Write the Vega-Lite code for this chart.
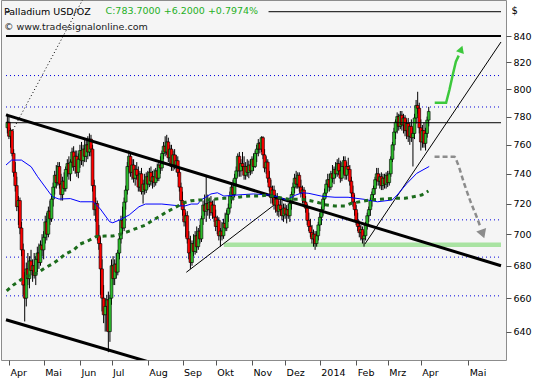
{
  "$schema": "https://vega.github.io/schema/vega-lite/v6.json",
  "width": 505,
  "height": 360,
  "autosize": "none",
  "padding": {"left": 1, "top": 0, "right": 27, "bottom": 20},
  "background": "#ffffff",
  "config": {
    "font": "DejaVu Sans",
    "view": {"fill": "#f5f5f5", "stroke": "#8c8c8c", "strokeWidth": 1},
    "axis": {"grid": false, "domain": false, "labelFont": "DejaVu Sans", "labelFontSize": 9.5, "labelColor": "#000000", "tickColor": "#555555", "tickSize": 5, "titleFont": "DejaVu Sans", "titleFontWeight": "normal"}
  },
  "title": {
    "text": "\u00a0\u00a0\u00a0\u00a0\u00a0Palladium USD/OZ",
    "subtitle": "© www.tradesignalonline.com",
    "anchor": "start", "frame": "group", "orient": "top", "offset": -31, "dx": 3,
    "font": "DejaVu Sans", "fontSize": 9.5, "fontWeight": "normal", "color": "#000000",
    "subtitleFont": "DejaVu Sans", "subtitleFontSize": 9.5, "subtitleColor": "#1a1a1a", "subtitlePadding": 5
  },
  "encoding": {
    "x": {"field": "i", "type": "quantitative", "scale": {"domain": [-1.86, 311.8], "nice": false, "zero": false},
      "axis": {"orient": "bottom", "values": [0, 22, 45, 65, 88, 110, 131, 154, 175, 197, 220, 240, 261, 291],
        "labelExpr": "['Apr','Mai','Jun','Jul','Aug','Sep','Okt','Nov','Dez','2014','Feb','Mrz','Apr','Mai'][indexof([0,22,45,65,88,110,131,154,175,197,220,240,261,291], datum.value)]",
        "labelAlign": "left", "labelOffset": 1, "labelPadding": 2, "labelFlush": false, "labelOverlap": false,
        "title": "C:783.7000 +6.2000 +0.7974%", "titleColor": "#1fb01f", "titleFontSize": 9.5,
        "titleX": 104, "titleY": -350, "titleAlign": "left", "titleBaseline": "middle", "titleAngle": 0}},
    "y": {"field": "v", "type": "quantitative", "scale": {"type": "log", "domain": [623.5, 868.3], "nice": false, "zero": false},
      "axis": {"orient": "right", "values": [640, 660, 680, 700, 720, 740, 760, 780, 800, 820, 840], "format": "d", "labelPadding": 2, "labelOverlap": false,
        "title": "$", "titleAngle": 0, "titleX": 5, "titleY": 10, "titleAlign": "left", "titleBaseline": "middle", "titleFontSize": 10, "titleColor": "#000000"}}
  },
  "layer": [
    {
      "data": {"values": [
        {"i": -1.86, "i2": 311.8, "v": 810.0}, {"i": -1.86, "i2": 311.8, "v": 786.9}, {"i": -1.86, "i2": 311.8, "v": 709.3},
        {"i": -1.86, "i2": 311.8, "v": 685.4}, {"i": -1.86, "i2": 311.8, "v": 661.4}
      ]},
      "mark": {"type": "rule", "color": "#0000dd", "strokeWidth": 1, "strokeDash": [1, 3]},
      "encoding": {"x2": {"field": "i2"}}
    },
    {
      "data": {"values": [{"i": 136.2, "i2": 311.8, "v": 693.2}]},
      "mark": {"type": "rule", "color": "#a9e3a2", "strokeWidth": 4.5, "strokeCap": "butt", "clip": true},
      "encoding": {"x2": {"field": "i2"}}
    },
    {
      "data": {"name": "candles"},
      "mark": {"type": "rule", "color": "#000000", "strokeWidth": 1},
      "encoding": {
        "y": {"field": "l", "type": "quantitative", "scale": {"type": "log", "domain": [623.5, 868.3], "nice": false, "zero": false},
          "axis": {"orient": "right", "values": [640, 660, 680, 700, 720, 740, 760, 780, 800, 820, 840], "format": "d", "labelPadding": 2, "labelOverlap": false,
            "title": "$", "titleAngle": 0, "titleX": 5, "titleY": 10, "titleAlign": "left", "titleBaseline": "middle", "titleFontSize": 10, "titleColor": "#000000"}},
        "y2": {"field": "h"}
      }
    },
    {
      "data": {"name": "candles"},
      "mark": {"type": "bar", "size": 2.8, "stroke": "#000000", "strokeWidth": 0.6},
      "encoding": {
        "y": {"field": "o", "type": "quantitative", "scale": {"type": "log", "domain": [623.5, 868.3], "nice": false, "zero": false},
          "axis": {"orient": "right", "values": [640, 660, 680, 700, 720, 740, 760, 780, 800, 820, 840], "format": "d", "labelPadding": 2, "labelOverlap": false,
            "title": "$", "titleAngle": 0, "titleX": 5, "titleY": 10, "titleAlign": "left", "titleBaseline": "middle", "titleFontSize": 10, "titleColor": "#000000"}},
        "y2": {"field": "c"},
        "fill": {"condition": {"test": "datum.c >= datum.o", "value": "#2dbd2d"}, "value": "#ff0000"}
      }
    },
    {
      "data": {"values": [{"i": -1.86, "i2": 0.6, "v": 859.0}, {"i": 164.5, "i2": 311.8, "v": 859.0}, {"i": -1.86, "i2": 311.8, "v": 775.6}]},
      "mark": {"type": "rule", "color": "#000000", "strokeWidth": 1},
      "encoding": {"x2": {"field": "i2"}}
    },
    {
      "data": {"values": [{"i": -1.86, "i2": 311.8, "v": 840}]},
      "mark": {"type": "rule", "color": "#000000", "strokeWidth": 2},
      "encoding": {"x2": {"field": "i2"}}
    },
    {
      "data": {"values": [
        {"id": "upper", "i": -1.86, "v": 781.2}, {"id": "upper", "i": 311.8, "v": 680.0},
        {"id": "lower", "i": -1.86, "v": 647.0}, {"id": "lower", "i": 183.9, "v": 597.5}
      ]},
      "mark": {"type": "line", "color": "#000000", "strokeWidth": 3, "clip": true},
      "encoding": {"detail": {"field": "id"}}
    },
    {
      "data": {"values": [
        {"id": "sep", "i": 112.4, "v": 675.9}, {"id": "sep", "i": 167.7, "v": 718.8},
        {"id": "feb", "i": 225.5, "v": 693.6}, {"id": "feb", "i": 311.8, "v": 835.4}
      ]},
      "mark": {"type": "line", "color": "#000000", "strokeWidth": 1, "clip": true},
      "encoding": {"detail": {"field": "id"}}
    },
    {
      "data": {"values": [{"i": 2.5, "v": 770.4}, {"i": 60, "v": 900.4}]},
      "mark": {"type": "line", "color": "#000000", "strokeWidth": 1, "strokeDash": [1, 2.5], "clip": true}
    },
    {
      "data": {"values": [
        {"i": -1.86, "v": 746.0}, {"i": 1.7, "v": 749.4}, {"i": 7.9, "v": 749.4}, {"i": 14.1, "v": 744.8}, {"i": 18.2, "v": 738.0},
        {"i": 24.4, "v": 729.0}, {"i": 27.5, "v": 724.6}, {"i": 31.7, "v": 723.0}, {"i": 38.9, "v": 723.3}, {"i": 45.2, "v": 721.2},
        {"i": 53.4, "v": 721.2}, {"i": 57.6, "v": 716.9}, {"i": 63.8, "v": 708.1}, {"i": 65.8, "v": 707.4}, {"i": 70.0, "v": 709.2},
        {"i": 76.2, "v": 712.5}, {"i": 82.4, "v": 717.9}, {"i": 86.5, "v": 719.7}, {"i": 96.9, "v": 719.7}, {"i": 105.2, "v": 718.8},
        {"i": 111.4, "v": 718.4}, {"i": 115.5, "v": 719.7}, {"i": 119.7, "v": 719.7}, {"i": 121.7, "v": 722.4}, {"i": 128.0, "v": 726.4},
        {"i": 132.1, "v": 727.2}, {"i": 136.2, "v": 725.0}, {"i": 144.5, "v": 725.7}, {"i": 154.8, "v": 726.4}, {"i": 165.2, "v": 725.7},
        {"i": 171.4, "v": 724.2}, {"i": 175.6, "v": 722.4}, {"i": 181.8, "v": 725.7}, {"i": 185.9, "v": 727.2}, {"i": 190.1, "v": 726.8},
        {"i": 198.3, "v": 724.9}, {"i": 206.6, "v": 724.2}, {"i": 214.9, "v": 724.2}, {"i": 225.3, "v": 722.8}, {"i": 233.5, "v": 721.2},
        {"i": 242.9, "v": 722.4}, {"i": 246.0, "v": 725.7}, {"i": 252.2, "v": 733.5}, {"i": 258.4, "v": 740.3}, {"i": 266.3, "v": 745.0}
      ]},
      "mark": {"type": "line", "color": "#0000ff", "strokeWidth": 1, "clip": true}
    },
    {
      "data": {"values": [
        {"i": -1.4, "v": 664.5}, {"i": 2.7, "v": 668.0}, {"i": 7.9, "v": 671.5}, {"i": 13.0, "v": 674.2}, {"i": 18.2, "v": 675.6},
        {"i": 22.4, "v": 678.4}, {"i": 27.5, "v": 681.1}, {"i": 31.7, "v": 684.0}, {"i": 35.8, "v": 687.4}, {"i": 41.0, "v": 689.9},
        {"i": 45.2, "v": 693.7}, {"i": 50.3, "v": 695.8}, {"i": 55.5, "v": 698.6}, {"i": 60.7, "v": 698.8}, {"i": 65.8, "v": 698.8},
        {"i": 71.0, "v": 700.1}, {"i": 76.2, "v": 702.0}, {"i": 81.4, "v": 704.0}, {"i": 86.5, "v": 705.9}, {"i": 90.7, "v": 708.7},
        {"i": 95.8, "v": 711.8}, {"i": 100.0, "v": 714.6}, {"i": 105.2, "v": 717.3}, {"i": 110.4, "v": 720.4}, {"i": 115.5, "v": 721.9},
        {"i": 120.7, "v": 722.4}, {"i": 125.9, "v": 722.4}, {"i": 131.1, "v": 723.0}, {"i": 136.2, "v": 723.5}, {"i": 142.4, "v": 723.5},
        {"i": 147.6, "v": 724.6}, {"i": 152.8, "v": 725.0}, {"i": 159.0, "v": 725.0}, {"i": 164.2, "v": 725.7}, {"i": 170.4, "v": 724.2},
        {"i": 176.6, "v": 723.0}, {"i": 181.8, "v": 722.8}, {"i": 186.0, "v": 722.8}, {"i": 191.1, "v": 721.9}, {"i": 196.3, "v": 720.6},
        {"i": 201.4, "v": 719.0}, {"i": 206.6, "v": 718.4}, {"i": 212.9, "v": 718.4}, {"i": 217.0, "v": 720.2}, {"i": 222.2, "v": 721.2},
        {"i": 228.4, "v": 722.4}, {"i": 233.5, "v": 722.8}, {"i": 239.8, "v": 723.2}, {"i": 246.0, "v": 723.5}, {"i": 251.1, "v": 723.5},
        {"i": 256.3, "v": 724.6}, {"i": 261.5, "v": 725.7}, {"i": 265.8, "v": 728.4}
      ]},
      "mark": {"type": "line", "color": "#1b6b1b", "strokeWidth": 3, "strokeDash": [4, 4], "clip": true}
    },
    {
      "data": {"values": [
        {"i": 269.7, "v": 751.7}, {"i": 282.2, "v": 751.7}, {"i": 284.3, "v": 747.2}, {"i": 288.4, "v": 733.6},
        {"i": 292.5, "v": 721.3}, {"i": 296.7, "v": 710.4}, {"i": 299.0, "v": 704.0}
      ]},
      "mark": {"type": "line", "color": "#8c8c8c", "strokeWidth": 2.5, "strokeDash": [5, 3], "interpolate": "monotone"}
    },
    {
      "data": {"values": [{"i": 299.9, "v": 701.0}]},
      "mark": {"type": "point", "shape": "triangle", "filled": true, "size": 110, "angle": 160, "color": "#8c8c8c", "opacity": 1}
    },
    {
      "data": {"values": [
        {"i": 269.8, "v": 790.0}, {"i": 277.0, "v": 790.0}, {"i": 279.1, "v": 799.3}, {"i": 281.2, "v": 810.4},
        {"i": 283.2, "v": 820.4}, {"i": 285.0, "v": 825.0}
      ]},
      "mark": {"type": "line", "color": "#3cc83c", "strokeWidth": 2.5}
    },
    {
      "data": {"values": [{"i": 286.3, "v": 829.0}]},
      "mark": {"type": "point", "shape": "triangle", "filled": true, "size": 70, "angle": 20, "color": "#3cc83c", "opacity": 1}
    }
  ],
  "datasets": {
    "candles": [
      {"i":-1,"o":772,"h":782,"l":768,"c":776},{"i":0,"o":776,"h":780,"l":764,"c":766},{"i":1,"o":766,"h":772,"l":758,"c":770},
      {"i":2,"o":770,"h":771,"l":752,"c":754},{"i":3,"o":754,"h":757,"l":738,"c":741},{"i":4,"o":741,"h":748,"l":728,"c":732},
      {"i":5,"o":732,"h":738,"l":715,"c":718},{"i":6,"o":718,"h":725,"l":706,"c":722},{"i":7,"o":722,"h":724,"l":700,"c":704},
      {"i":8,"o":704,"h":708,"l":686,"c":690},{"i":9,"o":690,"h":694,"l":662,"c":668},{"i":10,"o":668,"h":676,"l":646,"c":660},
      {"i":11,"o":660,"h":682,"l":655,"c":678},{"i":12,"o":678,"h":688,"l":668,"c":672},{"i":13,"o":672,"h":686,"l":666,"c":683},
      {"i":14,"o":683,"h":690,"l":674,"c":677},{"i":15,"o":677,"h":684,"l":670,"c":680},{"i":16,"o":680,"h":688,"l":672,"c":674},
      {"i":17,"o":674,"h":686,"l":668,"c":684},{"i":18,"o":684,"h":692,"l":676,"c":688},{"i":19,"o":688,"h":694,"l":678,"c":682},
      {"i":20,"o":682,"h":696,"l":680,"c":693},{"i":21,"o":693,"h":700,"l":686,"c":690},{"i":22,"o":690,"h":702,"l":684,"c":698},
      {"i":23,"o":698,"h":712,"l":694,"c":708},{"i":24,"o":708,"h":714,"l":696,"c":700},{"i":25,"o":700,"h":718,"l":698,"c":715},
      {"i":26,"o":715,"h":722,"l":706,"c":710},{"i":27,"o":710,"h":726,"l":708,"c":723},{"i":28,"o":723,"h":734,"l":718,"c":731},
      {"i":29,"o":731,"h":742,"l":726,"c":739},{"i":30,"o":739,"h":746,"l":730,"c":734},{"i":31,"o":734,"h":748,"l":732,"c":745},
      {"i":32,"o":745,"h":748,"l":730,"c":733},{"i":33,"o":733,"h":740,"l":722,"c":726},{"i":34,"o":726,"h":738,"l":722,"c":735},
      {"i":35,"o":735,"h":741,"l":728,"c":730},{"i":36,"o":730,"h":745,"l":728,"c":743},{"i":37,"o":743,"h":750,"l":738,"c":747},
      {"i":38,"o":747,"h":752,"l":736,"c":740},{"i":39,"o":740,"h":750,"l":735,"c":748},{"i":40,"o":748,"h":758,"l":744,"c":755},
      {"i":41,"o":755,"h":759,"l":742,"c":745},{"i":42,"o":745,"h":756,"l":740,"c":752},{"i":43,"o":752,"h":756,"l":738,"c":741},
      {"i":44,"o":741,"h":754,"l":737,"c":750},{"i":45,"o":750,"h":760,"l":744,"c":756},{"i":46,"o":756,"h":762,"l":746,"c":749},
      {"i":47,"o":749,"h":760,"l":745,"c":757},{"i":48,"o":757,"h":764,"l":748,"c":752},{"i":49,"o":752,"h":763,"l":748,"c":760},
      {"i":50,"o":760,"h":766,"l":750,"c":755},{"i":51,"o":755,"h":768,"l":752,"c":764},{"i":52,"o":764,"h":767,"l":752,"c":757},
      {"i":53,"o":757,"h":760,"l":728,"c":732},{"i":54,"o":732,"h":736,"l":712,"c":716},{"i":55,"o":716,"h":724,"l":708,"c":720},
      {"i":56,"o":720,"h":722,"l":696,"c":699},{"i":57,"o":699,"h":706,"l":690,"c":694},{"i":58,"o":694,"h":698,"l":662,"c":678},
      {"i":59,"o":678,"h":684,"l":652,"c":660},{"i":60,"o":660,"h":668,"l":645,"c":650},{"i":61,"o":650,"h":660,"l":640,"c":655},
      {"i":62,"o":655,"h":662,"l":640,"c":659},{"i":63,"o":659,"h":664,"l":628,"c":640},{"i":64,"o":640,"h":662,"l":634,"c":660},
      {"i":65,"o":660,"h":684,"l":656,"c":680},{"i":66,"o":680,"h":686,"l":668,"c":672},{"i":67,"o":672,"h":684,"l":668,"c":681},
      {"i":68,"o":681,"h":688,"l":672,"c":676},{"i":69,"o":676,"h":690,"l":674,"c":688},{"i":70,"o":688,"h":700,"l":684,"c":697},
      {"i":71,"o":697,"h":712,"l":694,"c":709},{"i":72,"o":709,"h":718,"l":700,"c":704},{"i":73,"o":704,"h":724,"l":702,"c":721},
      {"i":74,"o":721,"h":732,"l":716,"c":729},{"i":75,"o":729,"h":748,"l":726,"c":745},{"i":76,"o":745,"h":756,"l":740,"c":752},
      {"i":77,"o":752,"h":754,"l":738,"c":741},{"i":78,"o":741,"h":750,"l":736,"c":746},{"i":79,"o":746,"h":750,"l":734,"c":737},
      {"i":80,"o":737,"h":746,"l":732,"c":743},{"i":81,"o":743,"h":748,"l":736,"c":739},{"i":82,"o":739,"h":745,"l":728,"c":731},
      {"i":83,"o":731,"h":742,"l":728,"c":740},{"i":84,"o":740,"h":744,"l":726,"c":728},{"i":85,"o":728,"h":736,"l":720,"c":733},
      {"i":86,"o":733,"h":740,"l":726,"c":729},{"i":87,"o":729,"h":741,"l":727,"c":738},{"i":88,"o":738,"h":742,"l":730,"c":733},
      {"i":89,"o":733,"h":744,"l":731,"c":741},{"i":90,"o":741,"h":745,"l":732,"c":735},{"i":91,"o":735,"h":742,"l":730,"c":738},
      {"i":92,"o":738,"h":743,"l":731,"c":734},{"i":93,"o":734,"h":744,"l":732,"c":742},{"i":94,"o":742,"h":747,"l":735,"c":737},
      {"i":95,"o":737,"h":748,"l":735,"c":746},{"i":96,"o":746,"h":752,"l":740,"c":744},{"i":97,"o":744,"h":756,"l":742,"c":754},
      {"i":98,"o":754,"h":762,"l":750,"c":759},{"i":99,"o":759,"h":766,"l":752,"c":755},{"i":100,"o":755,"h":767,"l":753,"c":762},
      {"i":101,"o":762,"h":765,"l":748,"c":751},{"i":102,"o":751,"h":760,"l":746,"c":757},{"i":103,"o":757,"h":760,"l":742,"c":745},
      {"i":104,"o":745,"h":756,"l":742,"c":753},{"i":105,"o":753,"h":757,"l":743,"c":746},{"i":106,"o":746,"h":753,"l":741,"c":749},
      {"i":107,"o":749,"h":752,"l":738,"c":741},{"i":108,"o":741,"h":744,"l":728,"c":731},{"i":109,"o":731,"h":734,"l":718,"c":722},
      {"i":110,"o":722,"h":728,"l":712,"c":716},{"i":111,"o":716,"h":720,"l":705,"c":708},{"i":112,"o":708,"h":714,"l":698,"c":712},
      {"i":113,"o":712,"h":715,"l":694,"c":697},{"i":114,"o":697,"h":702,"l":684,"c":688},{"i":115,"o":688,"h":699,"l":678,"c":682},
      {"i":116,"o":682,"h":696,"l":680,"c":694},{"i":117,"o":694,"h":700,"l":686,"c":689},{"i":118,"o":689,"h":702,"l":687,"c":699},
      {"i":119,"o":699,"h":705,"l":688,"c":692},{"i":120,"o":692,"h":704,"l":690,"c":702},{"i":121,"o":702,"h":706,"l":694,"c":697},
      {"i":122,"o":697,"h":712,"l":695,"c":710},{"i":123,"o":710,"h":722,"l":706,"c":719},{"i":124,"o":719,"h":726,"l":712,"c":715},
      {"i":125,"o":715,"h":738,"l":708,"c":720},{"i":126,"o":720,"h":726,"l":712,"c":716},{"i":127,"o":716,"h":724,"l":710,"c":721},
      {"i":128,"o":721,"h":725,"l":712,"c":714},{"i":129,"o":714,"h":722,"l":710,"c":719},{"i":130,"o":719,"h":723,"l":708,"c":711},
      {"i":131,"o":711,"h":716,"l":702,"c":705},{"i":132,"o":705,"h":712,"l":700,"c":709},{"i":133,"o":709,"h":711,"l":696,"c":699},
      {"i":134,"o":699,"h":704,"l":692,"c":702},{"i":135,"o":702,"h":708,"l":696,"c":699},{"i":136,"o":699,"h":710,"l":697,"c":707},
      {"i":137,"o":707,"h":714,"l":702,"c":704},{"i":138,"o":704,"h":716,"l":702,"c":713},{"i":139,"o":713,"h":720,"l":708,"c":717},
      {"i":140,"o":717,"h":728,"l":714,"c":725},{"i":141,"o":725,"h":734,"l":720,"c":731},{"i":142,"o":731,"h":736,"l":722,"c":726},
      {"i":143,"o":726,"h":740,"l":724,"c":737},{"i":144,"o":737,"h":745,"l":732,"c":742},{"i":145,"o":742,"h":754,"l":738,"c":752},
      {"i":146,"o":752,"h":755,"l":738,"c":742},{"i":147,"o":742,"h":750,"l":738,"c":747},{"i":148,"o":747,"h":755,"l":742,"c":745},
      {"i":149,"o":745,"h":752,"l":736,"c":739},{"i":150,"o":739,"h":748,"l":736,"c":745},{"i":151,"o":745,"h":750,"l":738,"c":741},
      {"i":152,"o":741,"h":749,"l":737,"c":746},{"i":153,"o":746,"h":750,"l":739,"c":742},{"i":154,"o":742,"h":752,"l":740,"c":750},
      {"i":155,"o":750,"h":754,"l":742,"c":745},{"i":156,"o":745,"h":756,"l":744,"c":754},{"i":157,"o":754,"h":760,"l":748,"c":757},
      {"i":158,"o":757,"h":764,"l":752,"c":761},{"i":159,"o":761,"h":762,"l":754,"c":757},{"i":160,"o":757,"h":766,"l":755,"c":765},
      {"i":161,"o":765,"h":766,"l":750,"c":753},{"i":162,"o":753,"h":757,"l":741,"c":744},{"i":163,"o":744,"h":752,"l":740,"c":748},
      {"i":164,"o":748,"h":750,"l":734,"c":737},{"i":165,"o":737,"h":742,"l":728,"c":731},{"i":166,"o":731,"h":736,"l":720,"c":724},
      {"i":167,"o":724,"h":732,"l":720,"c":729},{"i":168,"o":729,"h":732,"l":716,"c":719},{"i":169,"o":719,"h":726,"l":714,"c":723},
      {"i":170,"o":723,"h":727,"l":712,"c":715},{"i":171,"o":715,"h":722,"l":711,"c":719},{"i":172,"o":719,"h":724,"l":712,"c":716},
      {"i":173,"o":716,"h":722,"l":709,"c":712},{"i":174,"o":712,"h":720,"l":708,"c":717},{"i":175,"o":717,"h":720,"l":710,"c":713},
      {"i":176,"o":713,"h":719,"l":707,"c":716},{"i":177,"o":716,"h":720,"l":710,"c":712},{"i":178,"o":712,"h":722,"l":708,"c":720},
      {"i":179,"o":720,"h":728,"l":716,"c":726},{"i":180,"o":726,"h":734,"l":722,"c":731},{"i":181,"o":731,"h":740,"l":727,"c":737},
      {"i":182,"o":737,"h":742,"l":730,"c":733},{"i":183,"o":733,"h":741,"l":730,"c":739},{"i":184,"o":739,"h":741,"l":728,"c":731},
      {"i":185,"o":731,"h":736,"l":724,"c":727},{"i":186,"o":727,"h":732,"l":720,"c":729},{"i":187,"o":729,"h":731,"l":718,"c":721},
      {"i":188,"o":721,"h":725,"l":714,"c":717},{"i":189,"o":717,"h":720,"l":706,"c":709},{"i":190,"o":709,"h":714,"l":702,"c":705},
      {"i":191,"o":705,"h":710,"l":698,"c":701},{"i":192,"o":701,"h":706,"l":694,"c":697},{"i":193,"o":697,"h":703,"l":692,"c":700},
      {"i":194,"o":700,"h":702,"l":690,"c":694},{"i":195,"o":694,"h":702,"l":692,"c":699},{"i":196,"o":699,"h":708,"l":696,"c":706},
      {"i":197,"o":706,"h":714,"l":702,"c":711},{"i":198,"o":711,"h":718,"l":706,"c":716},{"i":199,"o":716,"h":726,"l":712,"c":723},
      {"i":200,"o":723,"h":730,"l":718,"c":727},{"i":201,"o":727,"h":736,"l":724,"c":733},{"i":202,"o":733,"h":740,"l":728,"c":736},
      {"i":203,"o":736,"h":740,"l":728,"c":731},{"i":204,"o":731,"h":742,"l":729,"c":740},{"i":205,"o":740,"h":746,"l":734,"c":737},
      {"i":206,"o":737,"h":745,"l":733,"c":743},{"i":207,"o":743,"h":748,"l":737,"c":740},{"i":208,"o":740,"h":750,"l":738,"c":747},
      {"i":209,"o":747,"h":751,"l":739,"c":742},{"i":210,"o":742,"h":749,"l":734,"c":737},{"i":211,"o":737,"h":748,"l":735,"c":745},
      {"i":212,"o":745,"h":752,"l":740,"c":749},{"i":213,"o":749,"h":752,"l":736,"c":739},{"i":214,"o":739,"h":748,"l":736,"c":745},
      {"i":215,"o":745,"h":751,"l":740,"c":743},{"i":216,"o":743,"h":746,"l":732,"c":735},{"i":217,"o":735,"h":738,"l":724,"c":727},
      {"i":218,"o":727,"h":732,"l":718,"c":721},{"i":219,"o":721,"h":726,"l":712,"c":716},{"i":220,"o":716,"h":719,"l":706,"c":709},
      {"i":221,"o":709,"h":714,"l":702,"c":705},{"i":222,"o":705,"h":708,"l":698,"c":701},{"i":223,"o":701,"h":706,"l":696,"c":703},
      {"i":224,"o":703,"h":705,"l":694,"c":697},{"i":225,"o":697,"h":702,"l":692,"c":699},{"i":226,"o":699,"h":708,"l":696,"c":706},
      {"i":227,"o":706,"h":714,"l":703,"c":712},{"i":228,"o":712,"h":718,"l":708,"c":716},{"i":229,"o":716,"h":724,"l":712,"c":722},
      {"i":230,"o":722,"h":728,"l":718,"c":726},{"i":231,"o":726,"h":732,"l":722,"c":730},{"i":232,"o":730,"h":738,"l":726,"c":736},
      {"i":233,"o":736,"h":744,"l":732,"c":740},{"i":234,"o":740,"h":744,"l":732,"c":735},{"i":235,"o":735,"h":740,"l":730,"c":738},
      {"i":236,"o":738,"h":741,"l":729,"c":732},{"i":237,"o":732,"h":740,"l":729,"c":737},{"i":238,"o":737,"h":740,"l":730,"c":733},
      {"i":239,"o":733,"h":741,"l":730,"c":739},{"i":240,"o":739,"h":742,"l":731,"c":734},{"i":241,"o":734,"h":742,"l":732,"c":740},
      {"i":242,"o":740,"h":752,"l":738,"c":750},{"i":243,"o":750,"h":762,"l":748,"c":760},{"i":244,"o":760,"h":772,"l":756,"c":769},
      {"i":245,"o":769,"h":778,"l":764,"c":776},{"i":246,"o":776,"h":783,"l":768,"c":780},{"i":247,"o":780,"h":782,"l":770,"c":773},
      {"i":248,"o":773,"h":784,"l":771,"c":781},{"i":249,"o":781,"h":784,"l":770,"c":774},{"i":250,"o":774,"h":782,"l":768,"c":779},
      {"i":251,"o":779,"h":781,"l":766,"c":770},{"i":252,"o":770,"h":778,"l":764,"c":775},{"i":253,"o":775,"h":779,"l":762,"c":766},
      {"i":254,"o":766,"h":776,"l":760,"c":773},{"i":255,"o":773,"h":778,"l":762,"c":765},{"i":256,"o":765,"h":772,"l":745,"c":768},
      {"i":257,"o":768,"h":782,"l":764,"c":779},{"i":258,"o":779,"h":792,"l":775,"c":788},{"i":259,"o":788,"h":798,"l":782,"c":786},
      {"i":260,"o":786,"h":790,"l":768,"c":772},{"i":261,"o":772,"h":778,"l":756,"c":762},{"i":262,"o":762,"h":774,"l":758,"c":770},
      {"i":263,"o":770,"h":776,"l":758,"c":761},{"i":264,"o":761,"h":772,"l":756,"c":768},{"i":265,"o":768,"h":780,"l":765,"c":777.5},
      {"i":266,"o":777.5,"h":787,"l":773,"c":783.7}
    ]
  }
}
